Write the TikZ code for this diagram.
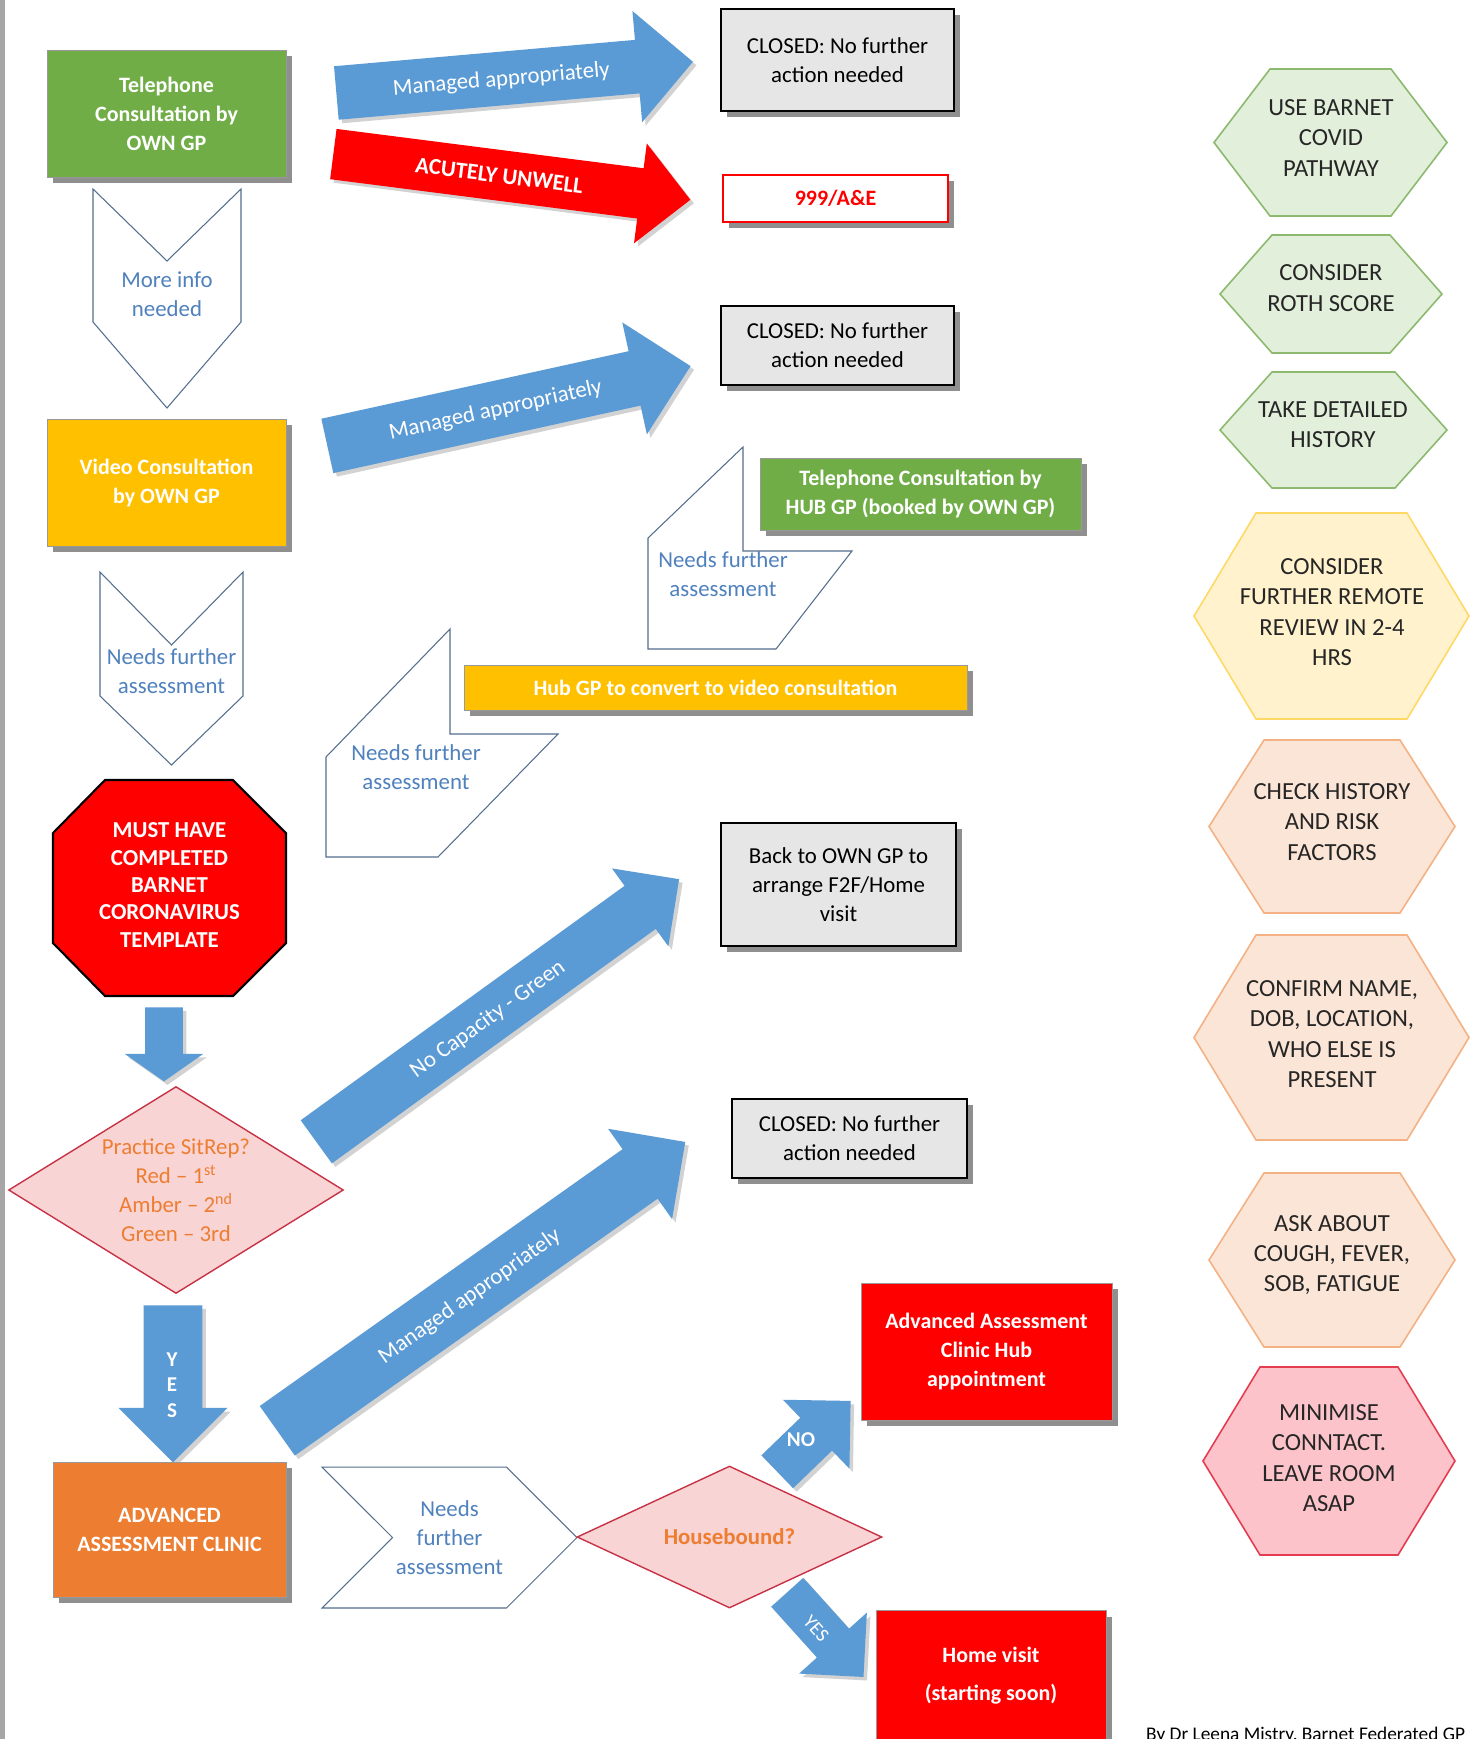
\documentclass[tikz,border=0pt]{standalone}
\usepackage{fontspec}
\setmainfont{Carlito}
\usetikzlibrary{shapes.arrows,shapes.symbols,shapes.geometric,shadows}

\definecolor{gpgreen}{RGB}{112,173,71}
\definecolor{gpyellow}{RGB}{255,192,0}
\definecolor{arrowblue}{RGB}{91,155,213}
\definecolor{alertred}{RGB}{255,0,0}
\definecolor{clinicorange}{RGB}{237,125,49}
\definecolor{closedgray}{RGB}{231,230,230}
\definecolor{chevline}{RGB}{84,110,140}
\definecolor{chevtext}{RGB}{79,129,189}
\definecolor{decfill}{RGB}{249,212,212}
\definecolor{decline}{RGB}{200,50,70}
\definecolor{dectext}{RGB}{237,125,49}
\definecolor{hexgreenfill}{RGB}{226,239,218}
\definecolor{hexgreenline}{RGB}{140,185,110}
\definecolor{hexyellowfill}{RGB}{255,242,204}
\definecolor{hexyellowline}{RGB}{255,217,102}
\definecolor{hexpeachfill}{RGB}{251,229,214}
\definecolor{hexpeachline}{RGB}{244,177,131}
\definecolor{hexpinkfill}{RGB}{252,196,202}
\definecolor{hexpinkline}{RGB}{228,60,80}

\tikzset{
  txt/.style={font=\fontsize{13}{16.5}\selectfont, align=center},
  boxshadow/.style={drop shadow={shadow xshift=3.5pt, shadow yshift=-3.5pt, opacity=0.55, fill=black!80}},
  colbox/.style={txt, rectangle, fill=#1, draw=black!40, text=white, font=\bfseries\fontsize{12.5}{16.5}\selectfont, boxshadow, inner sep=2pt},
  closedbox/.style={txt, rectangle, fill=closedgray, draw=black, line width=1.3pt, text=black, boxshadow},
  chevron/.style={txt, signal, draw=chevline, line width=0.6pt, fill=white, text=chevtext, inner sep=0pt, signal pointer angle=90},
  chevpath/.style={draw=chevline, line width=0.6pt, fill=white},
  decision/.style={txt, diamond, draw=decline, line width=0.8pt, fill=decfill, text=dectext, inner sep=0pt},
  blockarrow/.style={txt, single arrow, anchor=tail, fill=arrowblue, text=white, inner sep=0pt, drop shadow={shadow xshift=2pt, shadow yshift=-2pt, opacity=0.35}},
  hexa/.style={line width=0.9pt},
  hextxt/.style={font=\fontsize{14}{17.2}\selectfont, align=center, text=black!85},
}

\begin{document}
\begin{tikzpicture}[x=0.02cm,y=-0.02cm]
  \useasboundingbox (0,0) rectangle (1475,1739);
  \clip (0,0) rectangle (1475,1739);
  \fill[white] (0,0) rectangle (1475,1739);
  \fill[black!35] (0,0) rectangle (5,1739);

  % own GP telephone and video consultations
  \node[colbox=gpgreen, minimum width=4.78cm, minimum height=2.54cm] (telown) at (166.5,113.5) {Telephone\\Consultation by\\OWN GP};
  \draw[chevpath] (93,189) -- (167,261) -- (241,189) -- (241,322) -- (167,408) -- (93,322) -- cycle;
  \node[txt, text=chevtext] (moreinfo) at (167,294.5) {More info\\needed};
  \node[colbox=gpyellow, minimum width=4.78cm, minimum height=2.54cm] (video) at (166.5,482.5) {Video Consultation\\by OWN GP};
  \draw[chevpath] (100,572) -- (171.5,645) -- (243,572) -- (243,696) -- (171.5,765) -- (100,696) -- cycle;
  \node[txt, text=chevtext] (needsA) at (171.5,671) {Needs further\\assessment};

  % outcomes on the top row
  \node[blockarrow, rotate=5, minimum height=7.16cm, text height=0.68cm, text depth=0.38cm, single arrow head extend=0.58cm] (mgdA) at (336,93) {Managed appropriately};
  \node[blockarrow, fill=alertred, font=\bfseries\fontsize{13}{16.5}\selectfont, rotate=-7.3, minimum height=7.2cm, text height=0.65cm, text depth=0.35cm, single arrow head extend=0.5cm] (unwell) at (333,154) {ACUTELY UNWELL};
  \node[closedbox, minimum width=4.66cm, minimum height=2.04cm] (closedA) at (837.5,60) {CLOSED: No further\\action needed};
  \node[closedbox, fill=white, draw=alertred, line width=1pt, text=alertred, font=\bfseries\fontsize{12.5}{16.5}\selectfont, minimum width=4.5cm, minimum height=0.94cm] (ae) at (835.5,198.5) {999/A\&E};

  \node[blockarrow, rotate=12.4, minimum height=7.44cm, text height=0.7cm, text depth=0.4cm, single arrow head extend=0.59cm] (mgdB) at (327,446) {Managed appropriately};
  \node[closedbox, minimum width=4.66cm, minimum height=1.58cm] (closedB) at (837.5,345.5) {CLOSED: No further\\action needed};

  % hub GP loop
  \node[colbox=gpgreen, minimum width=6.42cm, minimum height=1.44cm] (telhub) at (920.5,494) {Telephone Consultation by\\HUB GP (booked by OWN GP)};
  \draw[chevpath] (648,538) -- (743,447) -- (743,551) -- (852,551) -- (776,649) -- (648,649) -- cycle;
  \node[txt, text=chevtext] (needsU) at (723,574) {Needs further\\assessment};
  \node[colbox=gpyellow, minimum width=10.06cm, minimum height=0.9cm] (hubvideo) at (715.5,687.5) {Hub GP to convert to video consultation};
  \draw[chevpath] (326,757) -- (450,629) -- (450,734) -- (558,734) -- (438,857) -- (326,857) -- cycle;
  \node[txt, text=chevtext] (needsL) at (416,767) {Needs further\\assessment};

  % template and sitrep
  \filldraw[fill=alertred, draw=black, line width=1.2pt] (105,780) -- (233,780) -- (286,833) -- (286,943) -- (233,996) -- (105,996) -- (53,943) -- (53,833) -- cycle;
  \node[txt, text=white, font=\bfseries\fontsize{13}{15.6}\selectfont] (template) at (169.5,885) {MUST HAVE\\COMPLETED\\BARNET\\CORONAVIRUS\\TEMPLATE};
  \node[blockarrow, rotate=-90, minimum height=1.48cm, text height=0.37cm, text depth=0.37cm, single arrow head extend=0.41cm, single arrow tip angle=110] (toSitrep) at (164,1007) {};
  \node[decision, aspect=1.62, minimum width=6.7cm, minimum height=4.14cm] (sitrep) at (176,1190) {Practice SitRep?\\Red -- 1\textsuperscript{st}\\Amber -- 2\textsuperscript{nd}\\Green -- 3rd};

  \node[blockarrow, rotate=35.9, minimum height=8.96cm, text height=0.675cm, text depth=0.375cm, single arrow head extend=0.43cm] (nocap) at (316,1142) {No Capacity - Green};
  \node[closedbox, minimum width=4.7cm, minimum height=2.46cm] (backown) at (838.5,884.5) {Back to OWN GP to\\arrange F2F/Home\\visit};

  % advanced assessment clinic
  \node[blockarrow, rotate=-90, minimum height=3.14cm, text height=0.58cm, text depth=0.58cm, single arrow head extend=0.5cm] (yesA) at (173,1305) {};
  \node[txt, text=white, font=\bfseries\fontsize{12}{14.5}\selectfont] (yesAtxt) at (172,1385) {Y\\E\\S};
  \node[colbox=clinicorange, minimum width=4.66cm, minimum height=2.7cm] (aac) at (169.5,1529.5) {ADVANCED\\ASSESSMENT CLINIC};
  \node[blockarrow, rotate=35.3, minimum height=10cm, text height=0.75cm, text depth=0.45cm, single arrow head extend=0.5cm] (mgdC) at (277,1431) {Managed appropriately};
  \node[closedbox, minimum width=4.7cm, minimum height=1.58cm] (closedC) at (849.5,1138.5) {CLOSED: No further\\action needed};
  \node[chevron, signal from=west, signal to=east, minimum width=5.1cm, minimum height=2.82cm] (needsB) at (449.5,1537.5) {Needs\\further\\assessment};
  \node[decision, aspect=2.15, font=\bfseries\fontsize{13}{16.5}\selectfont, minimum width=6.1cm, minimum height=2.84cm] (housebound) at (729.5,1537) {Housebound?};

  \node[blockarrow, rotate=44, minimum height=2.04cm, text height=0.45cm, text depth=0.45cm, single arrow head extend=0.5cm] (noarrow) at (777,1472) {};
  \node[txt, text=white, font=\bfseries\fontsize{12}{14.5}\selectfont] (notxt) at (801,1440) {NO};
  \node[colbox=alertred, minimum width=5.02cm, minimum height=2.74cm] (aachub) at (986.5,1351.5) {Advanced Assessment\\Clinic Hub\\appointment};
  \node[blockarrow, rotate=-48, minimum height=2.28cm, text height=0.6cm, text depth=0.25cm, single arrow head extend=0.48cm, font=\fontsize{11}{13}\selectfont] (yesB) at (787,1592) {YES};
  \node[colbox=alertred, anchor=north, minimum width=4.6cm, minimum height=2.6cm] (home) at (991,1610) {Home visit\\[5pt](starting soon)};

  % reminders
  \filldraw[hexa, fill=hexgreenfill, draw=hexgreenline] (1214,142.5) -- (1270,69) -- (1391,69) -- (1447,142.5) -- (1391,216) -- (1270,216) -- cycle;
  \node[hextxt] (hexA) at (1331,138) {USE BARNET\\COVID\\PATHWAY};
  \filldraw[hexa, fill=hexgreenfill, draw=hexgreenline] (1220,294) -- (1272,235) -- (1390,235) -- (1442,294) -- (1390,353) -- (1272,353) -- cycle;
  \node[hextxt] (hexB) at (1331,288) {CONSIDER\\ROTH SCORE};
  \filldraw[hexa, fill=hexgreenfill, draw=hexgreenline] (1220,430) -- (1272,372) -- (1395,372) -- (1447,430) -- (1395,488) -- (1272,488) -- cycle;
  \node[hextxt] (hexC) at (1333,425) {TAKE DETAILED\\HISTORY};
  \filldraw[hexa, fill=hexyellowfill, draw=hexyellowline] (1194,616) -- (1256,513) -- (1407,513) -- (1469,616) -- (1407,719) -- (1256,719) -- cycle;
  \node[hextxt] (hexD) at (1332,612) {CONSIDER\\FURTHER REMOTE\\REVIEW IN 2-4\\HRS};
  \filldraw[hexa, fill=hexpeachfill, draw=hexpeachline] (1209,826.5) -- (1264,740) -- (1400,740) -- (1455,826.5) -- (1400,913) -- (1264,913) -- cycle;
  \node[hextxt] (hexE) at (1332,822) {CHECK HISTORY\\AND RISK\\FACTORS};
  \filldraw[hexa, fill=hexpeachfill, draw=hexpeachline] (1194,1037.5) -- (1256,935) -- (1407,935) -- (1469,1037.5) -- (1407,1140) -- (1256,1140) -- cycle;
  \node[hextxt] (hexF) at (1332,1034) {CONFIRM NAME,\\DOB, LOCATION,\\WHO ELSE IS\\PRESENT};
  \filldraw[hexa, fill=hexpeachfill, draw=hexpeachline] (1209,1260) -- (1264,1173) -- (1400,1173) -- (1455,1260) -- (1400,1347) -- (1264,1347) -- cycle;
  \node[hextxt] (hexG) at (1332,1255) {ASK ABOUT\\COUGH, FEVER,\\SOB, FATIGUE};
  \filldraw[hexa, fill=hexpinkfill, draw=hexpinkline] (1203,1461) -- (1260,1367) -- (1398,1367) -- (1455,1461) -- (1398,1555) -- (1260,1555) -- cycle;
  \node[hextxt] (hexH) at (1329,1458) {MINIMISE\\CONNTACT.\\LEAVE ROOM\\ASAP};

  \node[anchor=base west, font=\fontsize{11}{13}\selectfont] (credit) at (1140,1740) {By Dr Leena Mistry, Barnet Federated GP};
\end{tikzpicture}
\end{document}
